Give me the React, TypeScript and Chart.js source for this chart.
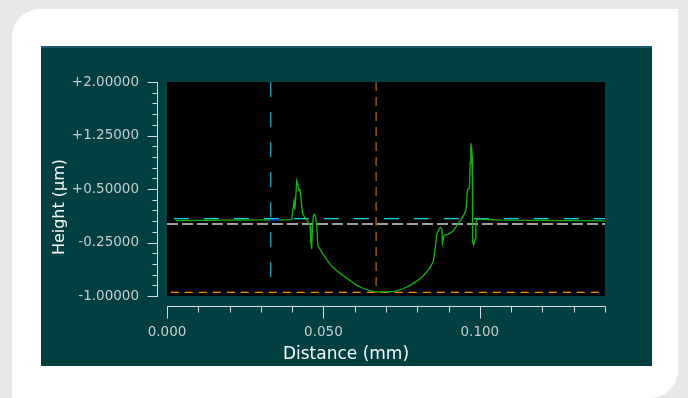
import React, { useEffect, useRef } from "react";
import { Chart, registerables } from "chart.js";

Chart.register(...registerables);

// ---- data ----
const profileX = [
  0.0028, 0.02, 0.033, 0.0358, 0.038, 0.03988, 0.04007, 0.04061, 0.04084, 0.04103,
  0.04148, 0.0418, 0.04212, 0.04253, 0.04295, 0.0434, 0.04413, 0.04519, 0.04573, 0.04595,
  0.04627, 0.04647, 0.04679, 0.04711, 0.04755, 0.04787, 0.04819, 0.04838, 0.04998, 0.05213,
  0.05427, 0.05638, 0.05852, 0.06067, 0.06278, 0.06492, 0.06652, 0.07131, 0.07346, 0.07557,
  0.07771, 0.07985, 0.08196, 0.08411, 0.08516, 0.08571, 0.08625, 0.08676, 0.0873, 0.08785,
  0.08804, 0.08858, 0.08945, 0.0905, 0.09156, 0.09264, 0.0937, 0.09475, 0.09562, 0.09603,
  0.09667, 0.0969, 0.09712, 0.09744, 0.09754, 0.09763, 0.09776, 0.09802, 0.0985, 0.09872,
  0.09923, 0.10265, 0.10649, 0.14,
];
const profileY = [
  0.058, 0.065, 0.068, 0.068, 0.068, 0.072, 0.144, 0.326, 0.212, 0.303,
  0.62, 0.575, 0.484, 0.493, 0.303, 0.144, 0.1, 0.032, -0.013, -0.24,
  -0.339, -0.059, 0.123, 0.144, 0.1, -0.013, -0.285, -0.308, -0.42, -0.556,
  -0.647, -0.715, -0.783, -0.851, -0.895, -0.928, -0.941, -0.941, -0.928, -0.895,
  -0.851, -0.792, -0.715, -0.602, -0.511, -0.331, -0.127, -0.081, -0.036, -0.059,
  -0.263, -0.149, -0.141, -0.118, -0.081, -0.013, 0.055, 0.123, 0.212, 0.493,
  0.507, 0.869, 1.141, 1.05, 0.959, 0.195, -0.24, -0.285, -0.195, 0.032,
  0.077, 0.073, 0.063, 0.055,
];
const selectionX = [0.033, 0.0358];
const selectionY = [0.068, 0.068];

const cursorCyanX = 0.03316;
const cursorCyanBottom = -0.89;
const cursorOrangeX = 0.06684;
const levelCyanY = 0.085;
const levelCyanStart = 0.0022;
const levelGrayY = 0.01;
const levelOrangeY = -0.95;
const levelOrangeStart = 0.0012;

const xMin = 0;
const xMax = 0.14;
const yMin = -1;
const yMax = 2;
const xTicks = [0, 0.01, 0.02, 0.03, 0.04, 0.05, 0.06, 0.07, 0.08, 0.09, 0.1, 0.11, 0.12, 0.13, 0.14];
const xMajor = [0, 0.05, 0.1];
const yTicks = [
  -1, -0.85, -0.7, -0.55, -0.4, -0.25, -0.1, 0.05, 0.2, 0.35, 0.5,
  0.65, 0.8, 0.95, 1.1, 1.25, 1.4, 1.55, 1.7, 1.85, 2,
];
const yMajor = [-1, -0.25, 0.5, 1.25, 2];

const xTitle = "Distance (mm)";
const yTitle = "Height (µm)";

// ---- styles ----
const FONT = "'DejaVu Sans', sans-serif";
const LABEL = "#c4cccc";
const AXIS = "#d4dcdc";

const isIn = (list: number[], v: number) => list.some((m) => Math.abs(m - v) < 1e-7);

const pts = (xs: number[], ys: number[]) => xs.map((x, i) => ({ x, y: ys[i] }));

export default function App() {
  const ref = useRef<HTMLCanvasElement | null>(null);

  useEffect(() => {
    const canvas = ref.current;
    if (!canvas) return;

    const bgPlugin = {
      id: "bg",
      beforeDraw(chart: any) {
        const { ctx, chartArea: a } = chart;
        ctx.save();
        ctx.fillStyle = "#000000";
        ctx.fillRect(a.left, a.top, a.right - a.left, a.bottom - a.top);
        ctx.restore();
      },
    };

    const axesPlugin = {
      id: "axesCustom",
      afterDraw(chart: any) {
        const { ctx, chartArea: a } = chart;
        const xs = chart.scales.x;
        const ys = chart.scales.y;
        ctx.save();
        ctx.strokeStyle = AXIS;
        ctx.lineWidth = 1;
        // y axis line
        const ax = a.left - 9.5;
        ctx.beginPath();
        ctx.moveTo(ax, ys.getPixelForValue(yMax));
        ctx.lineTo(ax, ys.getPixelForValue(yMin) + 0.5);
        ctx.stroke();
        yTicks.forEach((v) => {
          const py = Math.round(ys.getPixelForValue(v)) + 0.5;
          const len = isIn(yMajor, v) ? 10 : 5;
          ctx.beginPath();
          ctx.moveTo(ax - len, py);
          ctx.lineTo(ax + 0.5, py);
          ctx.stroke();
        });
        // x axis line
        const ay = a.bottom + 10.5;
        ctx.beginPath();
        ctx.moveTo(xs.getPixelForValue(xMin), ay);
        ctx.lineTo(xs.getPixelForValue(xMax), ay);
        ctx.stroke();
        xTicks.forEach((v) => {
          const px = Math.round(xs.getPixelForValue(v)) + 0.5;
          const len = isIn(xMajor, v) ? 12 : 6;
          ctx.beginPath();
          ctx.moveTo(px, ay);
          ctx.lineTo(px, ay + len);
          ctx.stroke();
        });
        // titles
        ctx.fillStyle = "#f4f8f8";
        ctx.textAlign = "center";
        ctx.textBaseline = "middle";
        ctx.font = `17px ${FONT}`;
        ctx.fillText(xTitle, 305, 309);
        ctx.save();
        ctx.translate(19, 161);
        ctx.rotate(-Math.PI / 2);
        ctx.font = `16px ${FONT}`;
        ctx.fillText(yTitle, 0, 0);
        ctx.restore();
        ctx.restore();
      },
    };

    const line = (data: any[], color: string, width: number, dash: number[], order: number) => ({
      data,
      borderColor: color,
      borderWidth: width,
      borderDash: dash,
      pointRadius: 0,
      fill: false,
      tension: 0,
      order,
    });

    const chart = new Chart(canvas, {
      type: "line",
      data: {
        datasets: [
          line(pts(profileX, profileY), "#14b414", 1.3, [], 1),
          line(pts(selectionX, selectionY), "#1020ff", 1.3, [], 0),
          line(
            [
              { x: levelCyanStart, y: levelCyanY },
              { x: xMax, y: levelCyanY },
            ],
            "#10d4e4",
            1.3,
            [15, 15],
            2
          ),
          line(
            [
              { x: xMin, y: levelGrayY },
              { x: xMax, y: levelGrayY },
            ],
            "#a0a0a0",
            2,
            [11, 4],
            2
          ),
          line(
            [
              { x: levelOrangeStart, y: levelOrangeY },
              { x: xMax, y: levelOrangeY },
            ],
            "#ff8c00",
            1.3,
            [8, 6],
            2
          ),
          line(
            [
              { x: cursorCyanX, y: yMax },
              { x: cursorCyanX, y: cursorCyanBottom },
            ],
            "#14a8b8",
            1.3,
            [15, 15],
            2
          ),
          line(
            [
              { x: cursorOrangeX, y: yMax },
              { x: cursorOrangeX, y: levelOrangeY },
            ],
            "#b4600c",
            1.3,
            [9, 6],
            2
          ),
        ],
      },
      options: {
        animation: false,
        responsive: false,
        devicePixelRatio: 1,
        layout: { padding: { top: 29, right: 47, left: 0, bottom: 0 } },
        plugins: { legend: { display: false }, tooltip: { enabled: false } },
        scales: {
          x: {
            type: "linear",
            min: xMin,
            max: xMax,
            afterBuildTicks: (s: any) => {
              s.ticks = xTicks.map((v) => ({ value: v }));
            },
            afterFit: (s: any) => {
              s.height = 70;
            },
            grid: { display: false, drawTicks: false },
            border: { display: false },
            ticks: {
              autoSkip: false,
              maxRotation: 0,
              minRotation: 0,
              padding: 28,
              color: LABEL,
              font: { family: FONT, size: 13.5 },
              callback: (v: any) => (isIn(xMajor, Number(v)) ? Number(v).toFixed(3) : ""),
            },
          },
          y: {
            type: "linear",
            min: yMin,
            max: yMax,
            afterBuildTicks: (s: any) => {
              s.ticks = yTicks.map((v) => ({ value: v }));
            },
            afterFit: (s: any) => {
              s.width = 126;
            },
            grid: { display: false, drawTicks: false },
            border: { display: false },
            ticks: {
              autoSkip: false,
              padding: 28,
              color: LABEL,
              font: { family: FONT, size: 13.5 },
              callback: (v: any) => {
                const n = Number(v);
                if (!isIn(yMajor, n)) return "";
                return (n >= 0 ? "+" : "-") + Math.abs(n).toFixed(5);
              },
            },
          },
        },
      },
      plugins: [bgPlugin, axesPlugin],
    } as any);

    return () => chart.destroy();
  }, []);

  return (
    <div
      style={{
        position: "fixed",
        left: 0,
        top: 0,
        width: 688,
        height: 398,
        background: "#e7e8ea",
        overflow: "hidden",
      }}
    >
      <div
        style={{
          position: "absolute",
          left: 12,
          top: 9,
          width: 666,
          height: 389,
          background: "#ffffff",
          borderRadius: "28px 0 28px 0",
        }}
      />
      <div
        style={{
          position: "absolute",
          left: 41,
          top: 46,
          width: 611,
          height: 320,
          background: "#023f41",
        }}
      >
        <div
          style={{
            position: "absolute",
            left: 0,
            top: 0,
            width: 611,
            height: 2,
            background: "#1b5a6c",
          }}
        />
        <canvas ref={ref} width={611} height={320} style={{ display: "block" }} />
      </div>
    </div>
  );
}
